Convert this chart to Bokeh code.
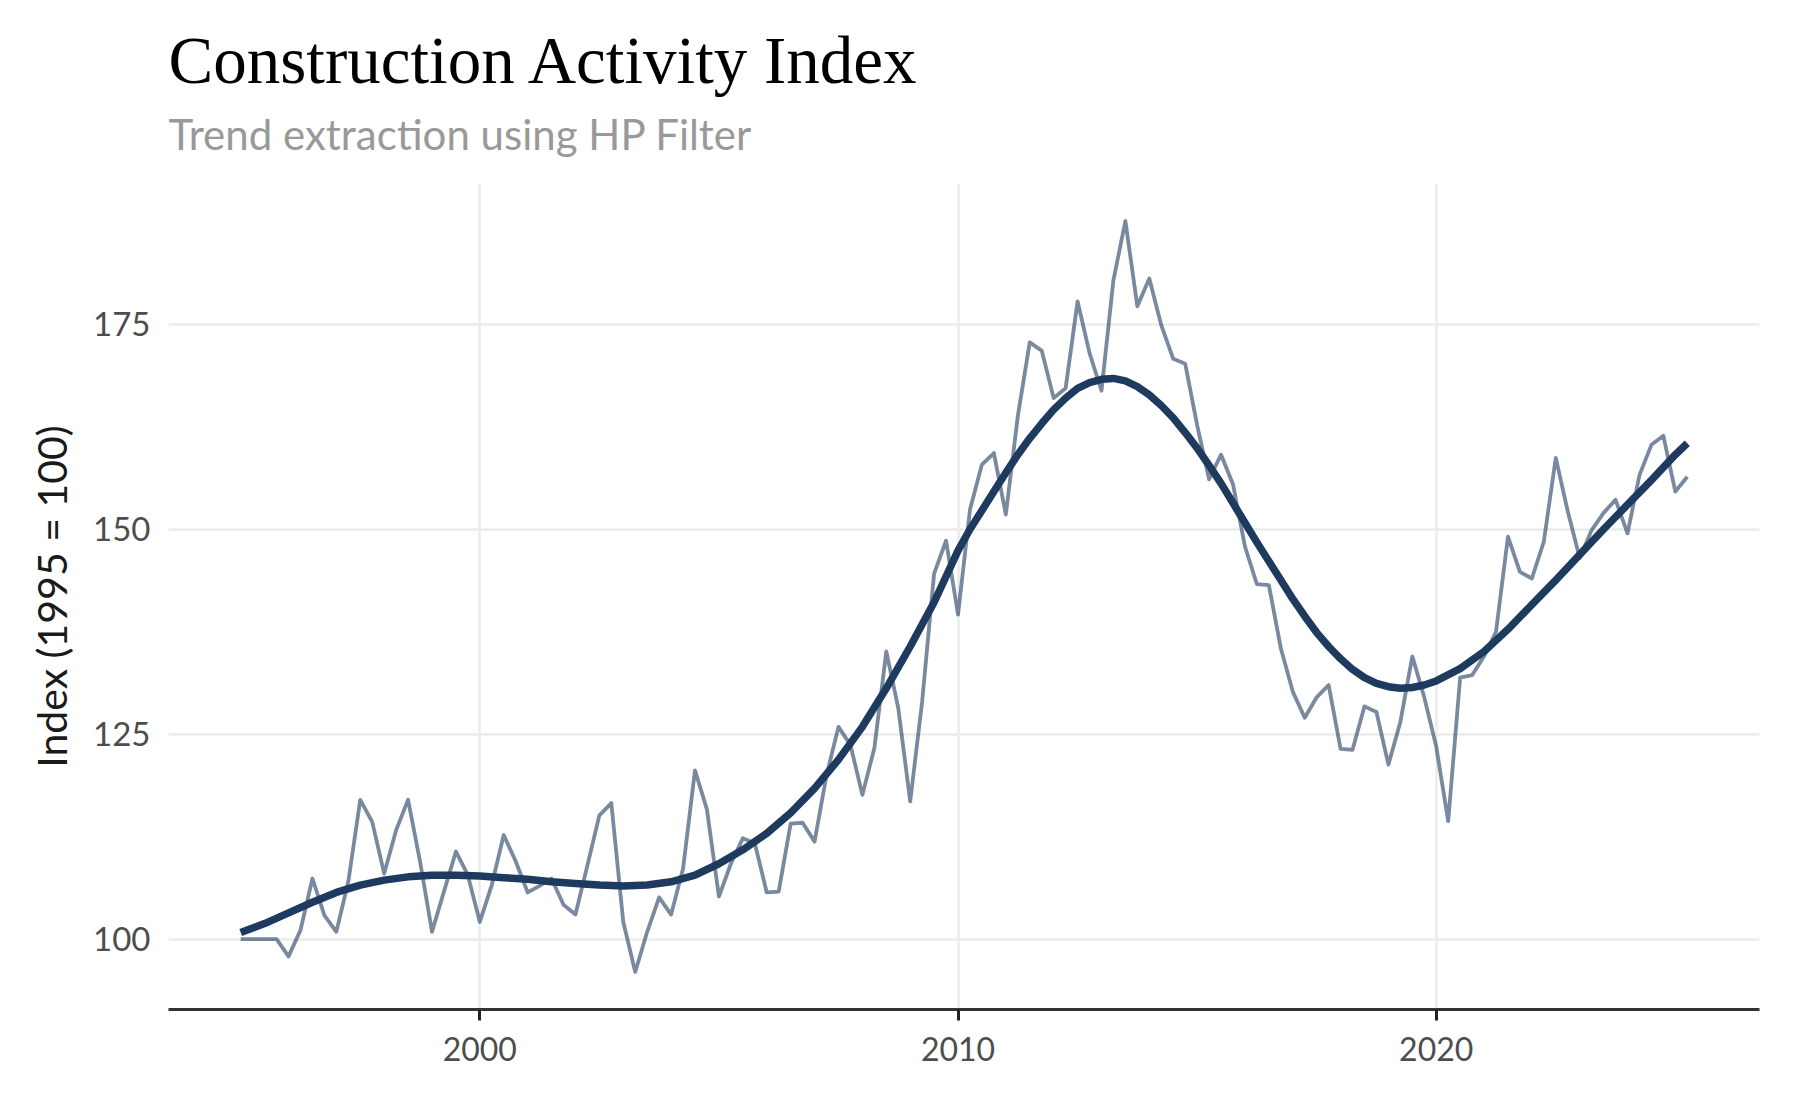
from bokeh.plotting import figure
from bokeh.models import Range1d, FixedTicker, ColumnDataSource
from bokeh.layouts import column
from bokeh.core.properties import value
from bokeh.embed import file_html
from bokeh.resources import INLINE

# ---- data ----
start_year = 1995.0
index_values = [
    100.0, 100.0, 100.0, 100.0,   # 1995
    97.9, 101.1, 107.4, 102.9,    # 1996
    100.9, 107.0, 117.0, 114.3,   # 1997
    108.0, 113.3, 117.0, 109.5,   # 1998
    100.9, 105.8, 110.7, 107.8,   # 1999
    102.1, 106.6, 112.7, 109.5,   # 2000
    105.7, 106.5, 107.4, 104.2,   # 2001
    103.0, 109.0, 115.1, 116.6,   # 2002
    102.1, 96.0, 100.9, 105.1,    # 2003
    103.0, 108.6, 120.6, 115.8,   # 2004
    105.2, 109.2, 112.3, 111.7,   # 2005
    105.7, 105.8, 114.1, 114.2,   # 2006
    111.9, 120.0, 125.9, 123.7,   # 2007
    117.6, 123.3, 135.1, 128.2,   # 2008
    116.8, 129.0, 144.6, 148.6,   # 2009
    139.6, 152.4, 157.9, 159.3,   # 2010
    151.8, 163.8, 172.8, 171.8,   # 2011
    166.0, 167.2, 177.8, 171.5,   # 2012
    166.9, 180.4, 187.6, 177.2,   # 2013
    180.6, 174.9, 170.8, 170.2,   # 2014
    162.7, 156.1, 159.1, 155.5,   # 2015
    147.9, 143.3, 143.2, 135.5,   # 2016
    130.2, 127.0, 129.5, 131.0,   # 2017
    123.2, 123.1, 128.4, 127.7,   # 2018
    121.3, 126.5, 134.5, 129.5,   # 2019
    123.5, 114.4, 131.9, 132.2,   # 2020
    134.5, 137.5, 149.1, 144.8,   # 2021
    144.0, 148.5, 158.7, 152.2,   # 2022
    146.5, 149.9, 152.0, 153.6,   # 2023
    149.5, 156.6, 160.3, 161.4,   # 2024
    154.6, 156.4,                 # 2025
]
quarter_years = [start_year + i / 4 for i in range(len(index_values))]

# HP-filter trend
trend_years = [
    1995.0, 1995.5, 1996.0, 1996.5, 1997.0, 1997.5, 1998.0, 1998.5, 1999.0, 1999.5,
    2000.0, 2000.5, 2001.0, 2001.5, 2002.0, 2002.5, 2003.0, 2003.5, 2004.0, 2004.5,
    2005.0, 2005.5, 2006.0, 2006.5, 2007.0, 2007.5, 2008.0, 2008.5, 2009.0, 2009.5,
    2010.0, 2010.25, 2010.5, 2010.75, 2011.0, 2011.25, 2011.5, 2011.75,
    2012.0, 2012.25, 2012.5, 2012.75, 2013.0, 2013.25, 2013.5, 2013.75,
    2014.0, 2014.25, 2014.5, 2014.75, 2015.0, 2015.25, 2015.5, 2015.75,
    2016.0, 2016.25, 2016.5, 2016.75, 2017.0, 2017.25, 2017.5, 2017.75,
    2018.0, 2018.25, 2018.5, 2018.75, 2019.0, 2019.25, 2019.5, 2019.75,
    2020.0, 2020.5, 2021.0, 2021.5, 2022.0, 2022.5, 2023.0, 2023.5,
    2024.0, 2024.5, 2025.0, 2025.25,
]
trend_values = [
    100.8, 101.9, 103.2, 104.5, 105.7, 106.6, 107.2, 107.6, 107.8, 107.8,
    107.7, 107.5, 107.3, 107.0, 106.8, 106.6, 106.5, 106.6, 107.0, 107.8,
    109.2, 110.9, 112.9, 115.4, 118.4, 121.9, 125.9, 130.6, 135.7, 141.1,
    147.4, 150.0, 152.3, 154.6, 156.9, 159.1, 161.1, 162.9,
    164.6, 166.0, 167.2, 167.9, 168.3, 168.4, 168.1, 167.4,
    166.4, 165.1, 163.6, 161.8, 159.9, 157.8, 155.6, 153.2,
    150.8, 148.4, 146.1, 143.8, 141.5, 139.4, 137.4, 135.7,
    134.2, 132.9, 131.9, 131.2, 130.8, 130.6, 130.7, 131.0,
    131.5, 133.0, 135.1, 137.8, 140.8, 143.8, 146.9, 150.0,
    153.0, 156.0, 159.1, 160.5,
]

x_ticks = [2000, 2010, 2020]
y_ticks = [100, 125, 150, 175]

title_text = "Construction Activity Index"
subtitle_text = "Trend extraction using HP Filter"
y_label = "Index (1995 = 100)"

W = 1784
HEADER_H = 175
LEFT, RIGHT = 168, 25

# ---- header (title + subtitle); its frame is aligned with the chart frame ----
head = figure(width=W, height=HEADER_H, output_backend="svg",
              toolbar_location=None, x_axis_type=None, y_axis_type=None,
              x_range=Range1d(LEFT, W - RIGHT), y_range=Range1d(0, HEADER_H),
              min_border_left=LEFT, min_border_right=RIGHT,
              min_border_top=0, min_border_bottom=0)
head.outline_line_color = None
head.grid.visible = False
head.text(x=[LEFT], y=[115.5], text=[title_text],
          text_font=value("Liberation Serif"), text_font_size=value("67px"),
          text_color="#000000", text_align="left", text_baseline="alphabetic")
head.text(x=[LEFT], y=[41.5], text=[subtitle_text],
          text_font=value("Lato"), text_font_size=value("42px"),
          text_color="#999999", text_align="left", text_baseline="alphabetic")

# ---- main chart ----
p = figure(
    width=W, height=1096 - HEADER_H,
    output_backend="svg", toolbar_location=None,
    x_range=Range1d(1993.49, 2026.76),
    y_range=Range1d(91.42, 192.18),
    min_border_left=LEFT, min_border_right=RIGHT,
    min_border_top=183 - HEADER_H, min_border_bottom=87,
)
p.outline_line_color = None
p.background_fill_color = "white"
p.border_fill_color = "white"

raw = ColumnDataSource(dict(x=quarter_years, y=index_values))
trend = ColumnDataSource(dict(x=trend_years, y=trend_values))

p.line("x", "y", source=raw, line_color="#1F3A5F", line_alpha=0.6,
       line_width=3.8, line_join="round")
p.line("x", "y", source=trend, line_color="#1F3A5F", line_width=7.5,
       line_join="round")

# grid
p.xaxis.ticker = FixedTicker(ticks=x_ticks)
p.yaxis.ticker = FixedTicker(ticks=y_ticks)
for g in (p.xgrid, p.ygrid):
    g.grid_line_color = "#EBEBEB"
    g.grid_line_width = 2.5
    g.minor_grid_line_color = None

# x axis
xa = p.xaxis[0]
xa.axis_line_color = "#333333"
xa.axis_line_width = 3
xa.major_tick_line_color = "#222222"
xa.major_tick_line_width = 3
xa.major_tick_out = 11
xa.major_tick_in = 0
xa.minor_tick_line_color = None
xa.major_label_text_font = "Lato"
xa.major_label_text_font_size = "32px"
xa.major_label_text_color = "#4D4D4D"
xa.major_label_standoff = 16

# y axis
ya = p.yaxis[0]
ya.axis_line_color = None
ya.major_tick_line_color = None
ya.minor_tick_line_color = None
ya.major_tick_out = 0
ya.major_tick_in = 0
ya.major_label_text_font = "Lato"
ya.major_label_text_font_size = "33px"
ya.major_label_text_color = "#4D4D4D"
ya.major_label_standoff = 18
ya.axis_label = y_label
ya.axis_label_text_font = "Lato"
ya.axis_label_text_font_size = "41px"
ya.axis_label_text_font_style = "normal"
ya.axis_label_text_color = "#1A1A1A"
ya.axis_label_standoff = 14

layout = column(head, p, spacing=0)
open("out.html", "w").write(file_html(layout, INLINE))
